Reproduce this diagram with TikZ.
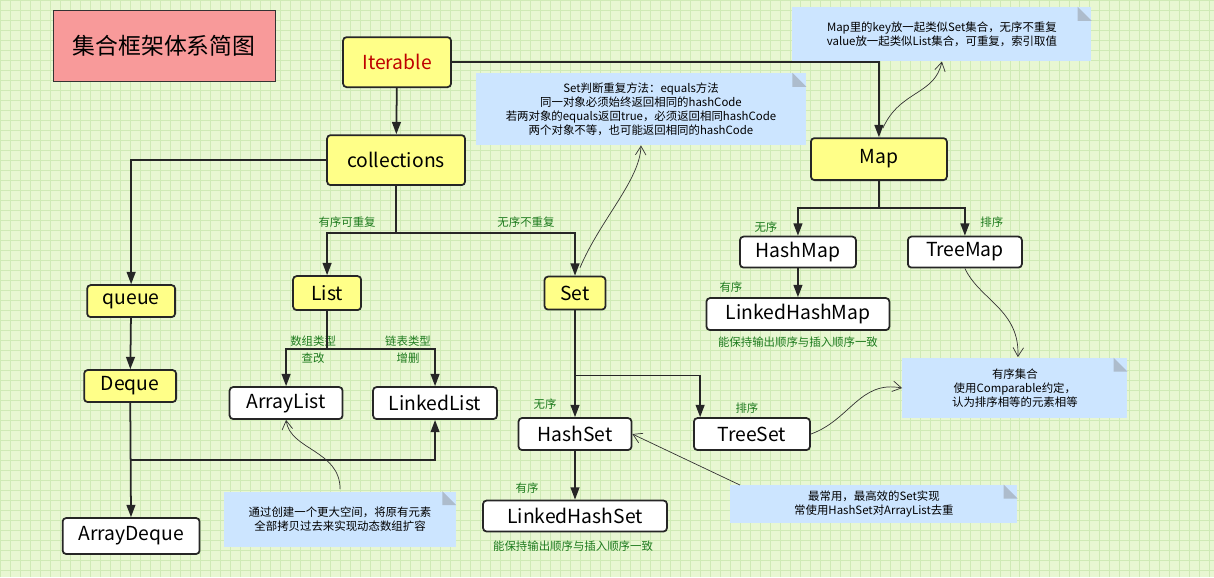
\documentclass[tikz,border=0pt]{standalone}
\usepackage{fontspec}
\setmainfont{Noto Sans CJK SC}
\usetikzlibrary{arrows.meta,shapes.misc}
\definecolor{bg}{HTML}{E8F7D2}
\definecolor{gridc}{HTML}{CFEAB5}
\definecolor{noteblue}{HTML}{CCE5FF}
\definecolor{boxyellow}{HTML}{FFFF88}
\definecolor{titlered}{HTML}{F89A9A}
\definecolor{labgreen}{HTML}{1E7B1E}
\begin{document}
\begin{tikzpicture}[x=0.02cm, y=-0.02cm,
        box/.style={draw=black!85, line width=1pt, rounded corners=2pt, font=\fontsize{11}{13}\selectfont, inner sep=0pt},
        ybox/.style={box, fill=boxyellow},
        wbox/.style={box, fill=white},
        note/.style={fill=noteblue, align=center, font=\fontsize{6.5}{8}\selectfont, inner sep=0pt},
        lab/.style={text=labgreen, font=\fontsize{6.5}{8}\selectfont},
        arrow/.style={-{Triangle[length=7pt,width=5pt]}, line width=1pt, black!85},
        link/.style={-{Straight Barb[length=5pt,width=6pt]}, thin, black!80}
    ]
        % Hintergrund
        \fill[bg] (0,0) rectangle (1214,577);
        \draw[gridc, step=0.2cm, very thin] (0,0) grid (1214,577);
        \useasboundingbox (0,0) rectangle (1214,577);

        % Titel
        \node[draw=black!80, fill=titlered, minimum width=222*0.02cm, minimum height=71*0.02cm,
              font=\fontsize{13}{15}\selectfont] (title) at (164,46) {集合框架体系简图};

        % Notizen
        \node[note, minimum width=299*0.02cm, minimum height=54*0.02cm] (mapnote) at (942,34)
            {Map里的key放一起类似Set集合，无序不重复\\value放一起类似List集合，可重复，索引取值};
        \node[note, minimum width=330*0.02cm, minimum height=72*0.02cm] (setnote) at (641,109)
            {Set判断重复方法：equals方法\\同一对象必须始终返回相同的hashCode\\若两对象的equals返回true，必须返回相同hashCode\\两个对象不等，也可能返回相同的hashCode};
        \node[note, minimum width=225*0.02cm, minimum height=60*0.02cm] (ordnote) at (1015,388)
            {有序集合\\使用Comparable约定，\\认为排序相等的元素相等};
        \node[note, minimum width=287*0.02cm, minimum height=38*0.02cm] (hsnote) at (874,504)
            {最常用，最高效的Set实现\\常使用HashSet对ArrayList去重};
        \node[note, minimum width=232*0.02cm, minimum height=55*0.02cm] (alnote) at (340,519)
            {通过创建一个更大空间，将原有元素\\全部拷贝过去来实现动态数组扩容};
        \foreach \n in {mapnote,setnote,ordnote,hsnote,alnote}
            \fill[noteblue!60!gray] (\n.north east) ++(-14,0) -- ++(14,14) -- ++(-14,0) -- cycle;

        % Knoten
        \node[ybox, minimum width=108*0.02cm, minimum height=50*0.02cm, text=red!75!black] (iter) at (397,62) {Iterable};
        \node[ybox, minimum width=138*0.02cm, minimum height=50*0.02cm] (coll) at (396,160) {collections};
        \node[ybox, minimum width=136*0.02cm, minimum height=42*0.02cm] (map) at (879,159) {Map};
        \node[ybox, minimum width=88*0.02cm, minimum height=32*0.02cm] (queue) at (131,301) {queue};
        \node[ybox, minimum width=68*0.02cm, minimum height=34*0.02cm] (list) at (327,293) {List};
        \node[ybox, minimum width=61*0.02cm, minimum height=33*0.02cm] (set) at (575,293) {Set};
        \node[ybox, minimum width=92*0.02cm, minimum height=32*0.02cm] (deque) at (130,386) {Deque};
        \node[wbox, minimum width=116*0.02cm, minimum height=31*0.02cm] (hmap) at (798,252) {HashMap};
        \node[wbox, minimum width=114*0.02cm, minimum height=31*0.02cm] (tmap) at (965,252) {TreeMap};
        \node[wbox, minimum width=183*0.02cm, minimum height=32*0.02cm] (lhmap) at (798,314) {LinkedHashMap};
        \node[wbox, minimum width=113*0.02cm, minimum height=32*0.02cm] (alist) at (286,403) {ArrayList};
        \node[wbox, minimum width=124*0.02cm, minimum height=32*0.02cm] (llist) at (435,403) {LinkedList};
        \node[wbox, minimum width=113*0.02cm, minimum height=32*0.02cm] (hset) at (575,434) {HashSet};
        \node[wbox, minimum width=116*0.02cm, minimum height=32*0.02cm] (tset) at (752,434) {TreeSet};
        \node[wbox, minimum width=184*0.02cm, minimum height=31*0.02cm] (lhset) at (575,516) {LinkedHashSet};
        \node[wbox, minimum width=137*0.02cm, minimum height=36*0.02cm] (adeque) at (131,536) {ArrayDeque};

        % Beschriftungen
        \node[lab] (l1) at (347,222) {有序可重复};
        \node[lab] (l2) at (526,222) {无序不重复};
        \node[lab] (l3) at (313,341) {数组类型};
        \node[lab] (l4) at (313,358) {查改};
        \node[lab] (l5) at (408,341) {链表类型};
        \node[lab] (l6) at (408,358) {增删};
        \node[lab] (l7) at (545,404) {无序};
        \node[lab] (l8) at (747,408) {排序};
        \node[lab] (l9) at (527,488) {有序};
        \node[lab] (l10) at (573,546) {能保持输出顺序与插入顺序一致};
        \node[lab] (l11) at (766,227) {无序};
        \node[lab] (l12) at (992,222) {排序};
        \node[lab] (l13) at (731,287) {有序};
        \node[lab] (l14) at (798,342) {能保持输出顺序与插入顺序一致};

        % Verbindungen
        \draw[arrow] (iter) -- (coll);
        \draw[arrow] (iter.east) -| (map.north);
        \draw[arrow] (coll.west) -| (queue.north);
        \draw[arrow] (coll.south) -- ++(0,47) -| (list.north);
        \draw[arrow] (coll.south) ++(0,47) -| (set.north);
        \draw[arrow] (list.south) -- ++(0,38) -| (alist.north);
        \draw[arrow] (list.south) ++(0,38) -| (llist.north);
        \draw[arrow] (queue) -- (deque);
        \draw[arrow] (deque) -- (adeque);
        \draw[arrow] (deque.south) ++(0,57) -| (llist.south);
        \draw[arrow] (set) -- (hset);
        \draw[arrow] (set.south) ++(0,65) -| ([xshift=4]tset.north west);
        \draw[arrow] (hset) -- (lhset);
        \draw[arrow] (map.south) -- ++(0,27) -| (hmap.north);
        \draw[arrow] (map.south) ++(0,27) -| (tmap.north);
        \draw[arrow] (hmap) -- (lhmap);

        % Hinweispfeile
        \draw[link] (883,128) .. controls (900,90) and (935,95) .. (mapnote.south);
        \draw[link] (set.north) ++(5,-8) .. controls (600,220) and (640,180) .. (setnote.south);
        \draw[link] (tmap.south) .. controls (980,300) and (1020,310) .. (1018,357);
        \draw[link] (tset.east) .. controls (850,420) and (860,380) .. (ordnote.west);
        \draw[link] (740,485) -- (hset.east);
        \draw[link] (alnote.north) ++(0,-2) .. controls (340,450) and (290,450) .. (alist.south);
    \end{tikzpicture}
\end{document}
